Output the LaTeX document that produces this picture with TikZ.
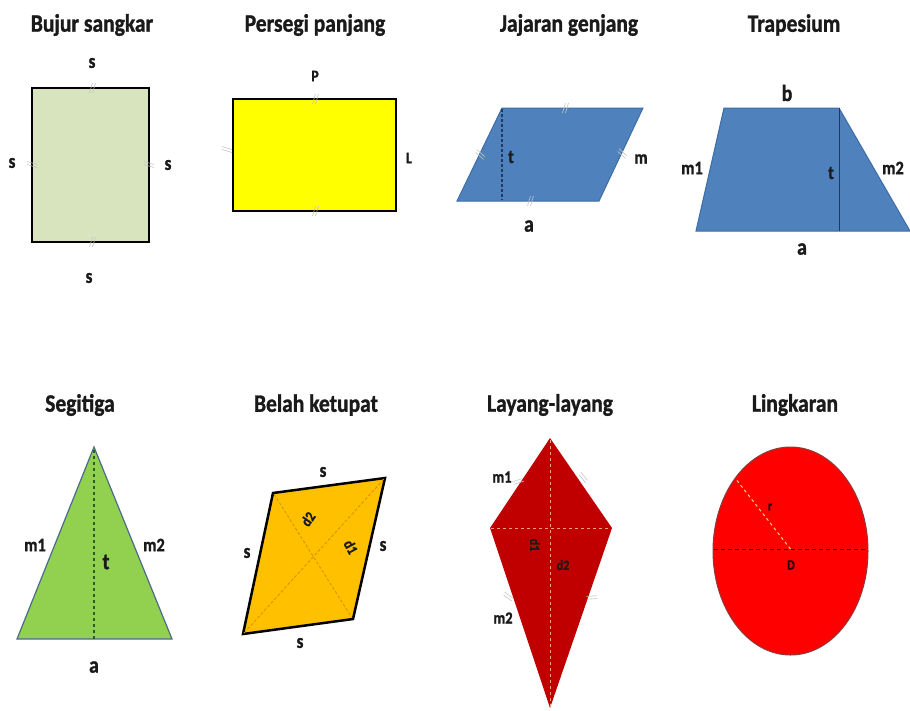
\documentclass[tikz,border=0pt]{standalone}
\usepackage{fontspec}
\setmainfont{Carlito}[FakeStretch=0.86]
\newfontfamily\heavyfont{Carlito}[FakeStretch=0.86, FakeBold=1.2]
\definecolor{ink}{HTML}{1A1A1A}
\definecolor{sqgreen}{HTML}{D7E4BD}
\definecolor{rectyellow}{HTML}{FFFF00}
\definecolor{pblue}{HTML}{4F81BD}
\definecolor{pedge}{HTML}{3E6DA3}
\definecolor{pdash}{HTML}{1F3864}
\definecolor{trigreen}{HTML}{92D050}
\definecolor{triedge}{HTML}{4A6B8A}
\definecolor{tridash}{HTML}{2E5E1E}
\definecolor{rhombor}{HTML}{FFC000}
\definecolor{rhdash}{HTML}{E08A00}
\definecolor{kitered}{HTML}{C00000}
\definecolor{kitedash}{HTML}{FF9F80}
\definecolor{circred}{HTML}{FF0000}
\definecolor{circedge}{HTML}{8C3B3B}
\definecolor{radyellow}{HTML}{FFD966}
\tikzset{
  dtick/.pic={\draw[draw=gray!45, line width=0.6pt] (-2.5pt,-5pt) -- (0.5pt,5pt) (0.5pt,-5pt) -- (3.5pt,5pt);}
}
\begin{document}
\begin{tikzpicture}[x=1pt,y=-1pt,
  title/.style={font=\heavyfont\bfseries\fontsize{25}{29}\selectfont, text=ink, inner sep=0pt},
  lbl/.style={font=\heavyfont\bfseries\fontsize{19}{22}\selectfont, text=ink, inner sep=0pt},
  biglbl/.style={font=\heavyfont\bfseries\fontsize{23}{27}\selectfont, text=ink, inner sep=0pt},
  slbl/.style={font=\heavyfont\bfseries\fontsize{20}{23}\selectfont, text=ink, inner sep=0pt},
  tinylbl/.style={font=\heavyfont\bfseries\fontsize{16}{19}\selectfont, text=ink, inner sep=0pt},
  diaglbl/.style={font=\heavyfont\bfseries\fontsize{15}{17}\selectfont, text=ink, inner sep=0pt},
  blackedge/.style={line width=2.5pt, draw=black, line join=miter},
]
\fill[white] (0,0) rectangle (910,710);
\path[use as bounding box] (0,0) rectangle (910,710);

% ---------- Bujur sangkar ----------
\node[title] (t1) at (92,25) {Bujur sangkar};
\filldraw[blackedge, fill=sqgreen] (32,88) rectangle (149,242);
\pic at (92,88) {dtick};
\pic at (92,242) {dtick};
\pic[rotate=90] at (32,165) {dtick};
\pic[rotate=90] at (149,165) {dtick};
\node[slbl] (s1a) at (92,63) {s};
\node[slbl] (s1b) at (12,163) {s};
\node[slbl] (s1c) at (168,165) {s};
\node[slbl] (s1d) at (89,278) {s};

% ---------- Persegi panjang ----------
\node[title] (t2) at (315,25) {Persegi panjang};
\filldraw[blackedge, fill=rectyellow] (233,99) rectangle (396,211);
\pic at (315,99) {dtick};
\pic at (315,211) {dtick};
\pic[rotate=90] at (227,150) {dtick};
\node[tinylbl] (p2) at (315,76) {P};
\node[tinylbl] (l2) at (409,158) {L};

% ---------- Jajaran genjang ----------
\node[title] (t3) at (569,25) {Jajaran genjang};
\filldraw[fill=pblue, draw=pedge, line width=1pt] (502,108) -- (643,108) -- (599,201) -- (457,201) -- cycle;
\draw[pdash, line width=2pt, dash pattern=on 3pt off 2pt] (502,109) -- (502,200);
\pic at (565,108) {dtick};
\pic at (530,201) {dtick};
\pic[rotate=65] at (480,155) {dtick};
\pic[rotate=65] at (622,154) {dtick};
\node[lbl] (t3t) at (511,157) {t};
\node[lbl] (t3m) at (641,159) {m};
\node[biglbl] (t3a) at (529,226) {a};

% ---------- Trapesium ----------
\node[title] (t4) at (794,25) {Trapesium};
\filldraw[fill=pblue, draw=pedge, line width=1pt] (724,108) -- (839,108) -- (910,231) -- (696,231) -- cycle;
\draw[pdash, line width=1pt] (839,108) -- (839,231);
\node[biglbl] (t4b) at (787,93) {b};
\node[lbl] (t4m1) at (692,168) {m1};
\node[lbl] (t4t) at (831,173) {t};
\node[lbl] (t4m2) at (893,168) {m2};
\node[biglbl] (t4a) at (802,249) {a};

% ---------- Segitiga ----------
\node[title] (t5) at (80,405) {Segitiga};
\filldraw[fill=trigreen, draw=triedge, line width=1.2pt, line join=miter] (94,447) -- (172,639) -- (17,639) -- cycle;
\draw[tridash, line width=1.5pt, dash pattern=on 3pt off 3pt] (94,450) -- (94,639);
\node[lbl] (t5m1) at (35,545) {m1};
\node[lbl] (t5m2) at (154,545) {m2};
\node[biglbl] (t5t) at (106,562) {t};
\node[biglbl] (t5a) at (94,667) {a};

% ---------- Belah ketupat ----------
\node[title] (t6) at (316,405) {Belah ketupat};
\filldraw[blackedge, fill=rhombor] (273,493) -- (385,478) -- (353,619) -- (243,634) -- cycle;
\draw[rhdash, line width=0.8pt, dash pattern=on 3pt off 2pt] (244,633) -- (384,479);
\draw[rhdash, line width=0.8pt, dash pattern=on 3pt off 2pt] (274,494) -- (352,618);
\node[slbl] (s6a) at (323,472) {s};
\node[slbl] (s6b) at (247,553) {s};
\node[slbl] (s6c) at (383,546) {s};
\node[slbl] (s6d) at (300,643) {s};
\node[diaglbl, rotate=55] (d6b) at (308,519) {d2};
\node[diaglbl, rotate=-62] (d6a) at (351,547) {d1};

% ---------- Layang-layang ----------
\node[title] (t7) at (550,405) {Layang-layang};
\fill[kitered] (550,438) -- (612,528) -- (550,708) -- (490,528) -- cycle;
\draw[kitedash, line width=1pt, dash pattern=on 3pt off 3pt] (491,528) -- (611,528);
\draw[kitedash, line width=1pt, dash pattern=on 3pt off 3pt] (550,440) -- (550,706);
\pic[rotate=-55] at (518,481) {dtick};
\pic[rotate=55] at (583,478) {dtick};
\pic[rotate=70] at (508,597) {dtick};
\pic[rotate=-70] at (592,597) {dtick};
\node[lbl, font=\heavyfont\bfseries\fontsize{17}{20}\selectfont] (k7m1) at (502,477) {m1};
\node[lbl, font=\heavyfont\bfseries\fontsize{17}{20}\selectfont] (k7m2) at (503,618) {m2};
\node[tinylbl, font=\heavyfont\bfseries\fontsize{14}{16}\selectfont, rotate=-90] (k7d1) at (535,545) {d1};
\node[tinylbl, font=\heavyfont\bfseries\fontsize{14}{16}\selectfont] (k7d2) at (563,565) {d2};

% ---------- Lingkaran ----------
\node[title] (t8) at (795,405) {Lingkaran};
\filldraw[fill=circred, draw=circedge, line width=1pt] (790.5,551) ellipse [x radius=77.5pt, y radius=104pt];
\coordinate (c8) at (790.5,549);
\coordinate (r8) at (735,478);
\draw[black, line width=1pt, dash pattern=on 4pt off 3pt] (714,549) -- (867,549);
\draw[radyellow, line width=1pt, dash pattern=on 3pt off 3pt] (c8) -- (r8);
\node[tinylbl, font=\heavyfont\bfseries\fontsize{14}{16}\selectfont, text=black!85!red] (c8r) at (770,507) {r};
\node[tinylbl, font=\heavyfont\bfseries\fontsize{14}{16}\selectfont, text=black!85!red] (c8d) at (791,565) {D};
\end{tikzpicture}
\end{document}
